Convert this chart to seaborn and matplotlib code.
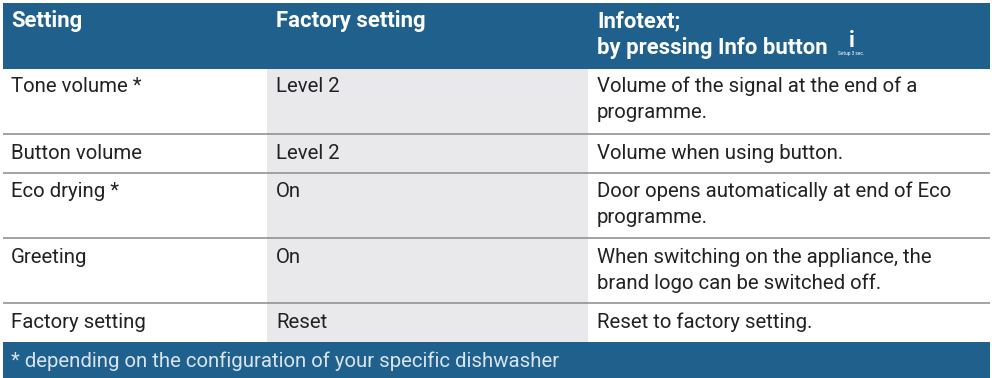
import matplotlib
matplotlib.use("Agg")
import matplotlib.pyplot as plt
from matplotlib.patches import Rectangle
import seaborn as sns

sns.set_theme(style="white")
plt.rcParams['font.family'] = ['Roboto', 'Liberation Sans', 'DejaVu Sans']

headers = ["Setting", "Factory setting", "Infotext;", "by pressing Info button"]
settings = ["Tone volume *", "Button volume", "Eco drying *", "Greeting", "Factory setting"]
defaults = ["Level 2", "Level 2", "On", "On", "Reset"]
infotexts = [["Volume of the signal at the end of a", "programme."],
             ["Volume when using button."],
             ["Door opens automatically at end of Eco", "programme."],
             ["When switching on the appliance, the", "brand logo can be switched off."],
             ["Reset to factory setting."]]
footnote = "* depending on the configuration of your specific dishwasher"
row_lines = [134, 172.5, 237.7, 303]
baselines = [92, 159, 197, 263, 328]

W, H = 992, 378
BLUE, GREY, INK, RULE = "#20608d", "#e9e9ec", "#222222", "#8a8a8a"
FS = 14.65
fig = plt.figure(figsize=(W/100, H/100), dpi=100, facecolor="white")
ax = fig.add_axes([0, 0, 1, 1])
ax.set_xlim(0, W); ax.set_ylim(H, 0); ax.axis("off")

ax.add_patch(Rectangle((3, 3), 987, 66, color=BLUE, lw=0))
ax.add_patch(Rectangle((267, 69), 321, 273, color=GREY, lw=0))
ax.add_patch(Rectangle((3, 342), 987, 36, color=BLUE, lw=0))
for y in row_lines:
    ax.plot([3, 990], [y, y], color=RULE, lw=1.1, solid_capstyle="butt")

def txt(x, y, s, **kw):
    kw.setdefault("fontsize", FS)
    kw.setdefault("color", INK)
    ax.text(x, y, s, va="baseline", ha=kw.pop("ha", "left"), **kw)

head = dict(color="white", fontweight="bold", fontsize=15.9)
txt(11, 27, headers[0], **head)
txt(276, 27, headers[1], **head)
txt(597, 27, headers[2], **head)
txt(597, 54, headers[3], **head)
txt(852, 47, "i", color="white", fontweight="bold", fontsize=16, ha="center")
txt(851, 54.5, "Setup 3 sec.", color="white", fontsize=3.4, ha="center")

for s, d, info, b in zip(settings, defaults, infotexts, baselines):
    txt(11, b, s)
    txt(276, b, d)
    for k, line in enumerate(info):
        txt(597, b + 26 * k, line)
txt(11, 367, footnote, color="#d8e4ee")
fig.savefig("out.png", dpi=100)
